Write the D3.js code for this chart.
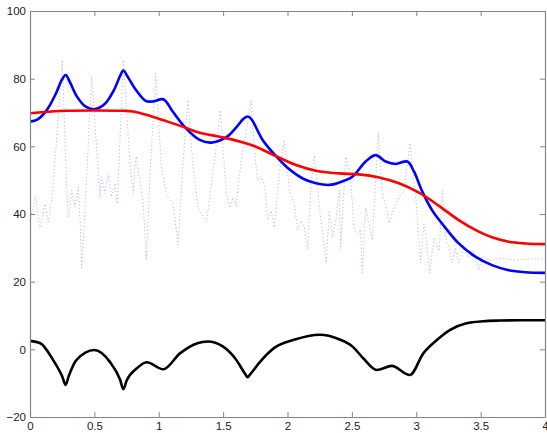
<!DOCTYPE html>
<html>
<head>
<meta charset="utf-8">
<script src="https://cdn.jsdelivr.net/npm/d3@7"></script>
<style>
  html, body { margin: 0; padding: 0; background: #fff; }
  svg { display: block; }
</style>
</head>
<body>
<svg id="chart" width="547" height="433"></svg>
<script>
// Raw noisy signal (dotted)
const rawX = [0, 0.013, 0.044, 0.078, 0.117, 0.142, 0.168, 0.207, 0.251, 0.285, 0.298, 0.324, 0.35, 0.375, 0.388, 0.401, 0.427, 0.479,
  0.544, 0.557, 0.583, 0.608, 0.634, 0.66, 0.678, 0.725, 0.777, 0.803,
  0.813, 0.826, 0.852, 0.878, 0.904, 0.93, 0.976, 1.02, 1.059, 1.111, 1.15, 1.188, 1.227, 1.266, 1.305, 1.37, 1.434, 1.478,
  1.525, 1.551, 1.577, 1.603, 1.613, 1.652, 1.678, 1.717, 1.742, 1.768, 1.794, 1.82, 1.846, 1.872, 1.898, 1.937, 1.975,
  2.014, 2.053, 2.079, 2.105, 2.131, 2.157, 2.183, 2.209, 2.248, 2.268, 2.3, 2.325, 2.351, 2.377, 2.403,
  2.413, 2.452, 2.491, 2.517, 2.543, 2.568, 2.581, 2.607, 2.633, 2.659, 2.706, 2.737, 2.763, 2.789, 2.827, 2.866, 2.905, 2.952,
  2.996, 3.034, 3.06, 3.078, 3.104, 3.138, 3.177, 3.203, 3.226, 3.252, 3.278, 3.304, 3.33, 3.368, 3.407, 3.446, 3.485, 3.511,
  3.563, 3.614, 3.666, 3.718, 3.795, 3.873, 3.964, 4.0];
const rawY = [38, 40.3, 45, 36, 43, 37.6, 44, 62, 85.5, 48, 39, 47, 42, 48, 39, 24, 41, 80.5,
  45, 51, 46, 52, 45, 49, 43, 85.5, 55, 46,
  54, 57, 50, 44, 26.4, 50, 81.7, 54, 46, 43, 30.8, 55, 73.7, 54, 42, 37.6, 56, 70.7,
  46, 41.8, 45, 42, 47, 59, 64, 73.7, 59, 50, 51, 49, 38.2, 41, 36, 52, 61.9,
  47, 43, 35.3, 38, 36, 29.4, 49, 57.4, 42, 36, 25.5, 41, 33, 39, 47,
  29.4, 56.9, 50, 35.3, 34, 35.3, 22.6, 42, 37, 32.3, 64.2, 46, 43, 37.3, 42, 45, 47, 61,
  45, 25.5, 37, 33, 22.6, 33, 29, 47, 33.2, 30.5, 25.5, 30, 25.5, 30, 27, 29.4, 23.4, 27.5,
  26.4, 26.5, 27, 26.6, 26.4, 26.8, 26.7, 26.7];

// Lightly smoothed signal (blue)
const smoothX = [0, 0.06, 0.13, 0.2, 0.245, 0.277, 0.31, 0.36, 0.43, 0.505, 0.58, 0.65, 0.7, 0.725, 0.76, 0.82, 0.9, 0.96,
  1.035, 1.11, 1.21, 1.318, 1.408, 1.525, 1.6, 1.66, 1.691, 1.72, 1.807, 1.911, 2.014, 2.118, 2.221, 2.325, 2.402,
  2.503, 2.607, 2.685, 2.763, 2.84, 2.931, 2.983, 3.047, 3.125, 3.2, 3.33, 3.459, 3.588, 3.718, 3.847, 4.0];
const smoothY = [67.3, 68.0, 70.7, 75.5, 79.5, 81.1, 79.0, 75.0, 71.8, 71.0, 72.5, 76.5, 80.8, 82.4, 80.5, 76.8, 73.4, 73.3,
  73.9, 70.2, 65.4, 61.9, 61.1, 62.7, 65.5, 68.2, 68.8, 68.0, 61.9, 57.1, 53.2, 50.5, 49.1, 48.6, 49.3,
  51.0, 55.5, 57.4, 55.5, 54.8, 55.5, 52.5, 46.6, 41.0, 37.2, 31.3, 27.4, 24.9, 23.4, 22.8, 22.6];

// Heavily smoothed trend (red)
const trendX = [0, 0.28, 0.5, 0.725, 0.8, 0.932, 1.07, 1.2, 1.318, 1.45, 1.55, 1.65, 1.755, 1.911, 2.066, 2.221, 2.402,
  2.555, 2.711, 2.866, 3.021, 3.177, 3.33, 3.459, 3.588, 3.718, 3.847, 4.0];
const trendY = [69.8, 70.5, 70.6, 70.5, 70.3, 69.0, 67.3, 65.6, 64.0, 63.0, 62.2, 61.2, 59.9, 57.1, 54.5, 52.8, 52.0,
  51.7, 50.8, 49.1, 46.3, 42.4, 38.2, 35.3, 33.1, 31.8, 31.3, 31.1];

// Residual between trend and smoothed signal (black)
const residX = [0, 0.08, 0.18, 0.25, 0.277, 0.3, 0.36, 0.5, 0.62, 0.7, 0.725, 0.75, 0.83, 0.906, 1.035, 1.165, 1.3, 1.38,
  1.5, 1.6, 1.67, 1.69, 1.71, 1.78, 1.9, 2.05, 2.25, 2.4, 2.5, 2.59, 2.693, 2.81, 2.95, 3.055, 3.16, 3.26, 3.39, 3.52,
  3.65, 3.8, 4.0];
const residY = [2.5, 1.8, -3.2, -8.0, -10.5, -8.0, -3.2, -0.2, -3.7, -9.0, -11.8, -9.3, -5.6, -3.8, -5.9, -1.2, 1.8, 2.3,
  0.8, -3.0, -7.2, -8.2, -7.4, -4.0, 0.5, 2.8, 4.3, 3.0, 1.0, -2.7, -6.1, -4.9, -7.6, -1.2, 2.75, 5.7, 7.7, 8.3,
  8.5, 8.6, 8.6];

const xTicks = [0, 0.5, 1, 1.5, 2, 2.5, 3, 3.5, 4];
const xTickLabels = ["0", "0.5", "1", "1.5", "2", "2.5", "3", "3.5", "4"];
const yTicks = [-20, 0, 20, 40, 60, 80, 100];
const yTickLabels = ["\u221220", "0", "20", "40", "60", "80", "100"];

const svg = d3.select("#chart");
const plotLeft = 30, plotRight = 545, plotTop = 11, plotBottom = 417;

const x = d3.scaleLinear().domain([0, 4]).range([plotLeft, plotRight]);
const y = d3.scaleLinear().domain([-20, 100]).range([plotBottom, plotTop]);

const axisColor = "#858585";
const font = "'Liberation Sans', Arial, sans-serif";

// Plot lines
const zip = (xs, ys) => xs.map((v, i) => [v, ys[i]]);
const straight = d3.line().x(d => x(d[0])).y(d => y(d[1]));
const smoothLine = d3.line().x(d => x(d[0])).y(d => y(d[1])).curve(d3.curveCatmullRom.alpha(0.5));
const monoLine = d3.line().x(d => x(d[0])).y(d => y(d[1])).curve(d3.curveMonotoneX);

const g = svg.append("g");

g.append("path")
  .attr("d", straight(zip(rawX, rawY)))
  .attr("fill", "none")
  .attr("stroke", "#acacf0")
  .attr("stroke-width", 1)
  .attr("stroke-dasharray", "1,2.5");

g.append("path")
  .attr("d", smoothLine(zip(smoothX, smoothY)))
  .attr("fill", "none")
  .attr("stroke", "#0000ff")
  .attr("stroke-width", 2.6)
  .attr("stroke-linejoin", "round");

g.append("path")
  .attr("d", smoothLine(zip(trendX, trendY)))
  .attr("fill", "none")
  .attr("stroke", "#ff0000")
  .attr("stroke-width", 2.6)
  .attr("stroke-linejoin", "round");

g.append("path")
  .attr("d", monoLine(zip(residX, residY)))
  .attr("fill", "none")
  .attr("stroke", "#000000")
  .attr("stroke-width", 2.6)
  .attr("stroke-linejoin", "round");

// Axes box with inward ticks on all sides
const tickLen = 5;
const axB = svg.append("g").attr("transform", `translate(0,${plotBottom})`)
  .call(d3.axisBottom(x).tickValues(xTicks).tickSizeInner(-tickLen).tickSizeOuter(0)
    .tickFormat((d, i) => xTickLabels[i]).tickPadding(5));
const axT = svg.append("g").attr("transform", `translate(0,${plotTop})`)
  .call(d3.axisTop(x).tickValues(xTicks).tickSizeInner(-tickLen).tickSizeOuter(0).tickFormat(""));
const axL = svg.append("g").attr("transform", `translate(${plotLeft},0)`)
  .call(d3.axisLeft(y).tickValues(yTicks).tickSizeInner(-tickLen).tickSizeOuter(0)
    .tickFormat((d, i) => yTickLabels[i]).tickPadding(4));
const axR = svg.append("g").attr("transform", `translate(${plotRight},0)`)
  .call(d3.axisRight(y).tickValues(yTicks).tickSizeInner(-tickLen).tickSizeOuter(0).tickFormat(""));

[axB, axT, axL, axR].forEach(a => {
  a.selectAll("path").attr("stroke", axisColor).attr("stroke-width", 1.2);
  a.selectAll("line").attr("stroke", axisColor).attr("stroke-width", 1);
  a.selectAll("text").attr("fill", "#222").style("font-family", font).style("font-size", "11.5px");
});
</script>
</body>
</html>
